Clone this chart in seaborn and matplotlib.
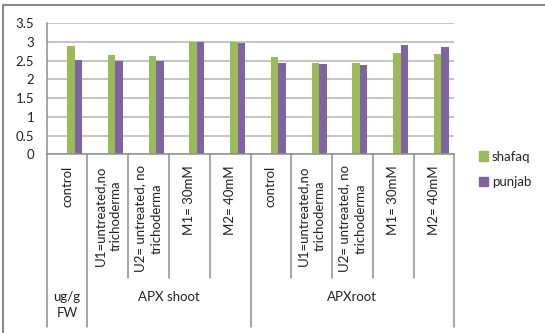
import matplotlib
matplotlib.use("Agg")
import matplotlib.pyplot as plt
import matplotlib.transforms as mtransforms
from matplotlib.lines import Line2D
from matplotlib.patches import Patch
import seaborn as sns
import pandas as pd

# Treatment labels along the axis, grouped under the outer labels
category_labels = [
    "control",
    "U1=untreated,no\ntrichoderma",
    "U2= untreated, no\ntrichoderma",
    "M1= 30mM",
    "M2= 40mM",
    "control",
    "U1=untreated,no\ntrichoderma",
    "U2= untreated, no\ntrichoderma",
    "M1= 30mM",
    "M2= 40mM",
]
group_labels = ["ug/g\nFW", "APX shoot", "APXroot"]
group_sizes = [1, 4, 5]

series_names = ["shafaq", "punjab"]
shafaq = [2.89, 2.65, 2.63, 3.00, 3.00, 2.60, 2.45, 2.43, 2.70, 2.68]
punjab = [2.51, 2.49, 2.49, 3.00, 2.97, 2.45, 2.41, 2.39, 2.91, 2.87]
y_ticks = [0, 0.5, 1, 1.5, 2, 2.5, 3, 3.5]

GREEN = "#9BBB59"
PURPLE = "#8064A2"
GRID = "#C4C4C4"
AXIS = "#8E8E8E"
FRAME = "#8A8A8A"

sns.set_theme(style="white")
plt.rcParams["font.family"] = ["Lato", "DejaVu Sans"]

n = len(category_labels)
df = pd.DataFrame({
    "slot": list(range(n)) * 2,
    "variety": [series_names[0]] * n + [series_names[1]] * n,
    "value": shafaq + punjab,
})

W, H = 545, 333
x0, x1, ytop, ybot = 46.7, 454.3, 23.3, 154.3
fig = plt.figure(figsize=(W / 100, H / 100), dpi=100)
ax = fig.add_axes([x0 / W, 1 - ybot / H, (x1 - x0) / W, (ybot - ytop) / H])

# two empty leading slots push each pair to the right half of its category
hue_order = ["pad_a", "pad_b"] + series_names
palette = {"pad_a": GREEN, "pad_b": GREEN, series_names[0]: GREEN, series_names[1]: PURPLE}
sns.barplot(data=df, x="slot", y="value", hue="variety", hue_order=hue_order,
            palette=palette, width=0.74, dodge=True, legend=False, ax=ax,
            saturation=1, linewidth=0, errorbar=None)

ax.set_ylim(0, 3.5)
ax.set_xlim(-0.5, n - 0.5)
ax.set_yticks(y_ticks)
ax.set_yticklabels([f"{t:g}" for t in y_ticks])
ax.yaxis.grid(True, color=GRID, lw=1.4)
ax.set_axisbelow(True)
ax.set_xlabel("")
ax.set_ylabel("")
for s in ("top", "right"):
    ax.spines[s].set_visible(False)
for s in ("left", "bottom"):
    ax.spines[s].set_color(AXIS)
    ax.spines[s].set_linewidth(1.1)
ax.tick_params(axis="y", direction="out", length=3, width=1.1, color=AXIS,
               labelsize=9.5, pad=6, labelcolor="#222222")
ax.set_xticks(range(n))
ax.set_xticklabels(category_labels, rotation=90, va="top", ha="center",
                   multialignment="center", fontsize=9.5, linespacing=1.45,
                   color="#222222")
ax.tick_params(axis="x", length=0, pad=8)

# category and group divider lines under the axis
def ya(p):
    return (ybot - p) / (ybot - ytop)

trans = mtransforms.blended_transform_factory(ax.transData, ax.transAxes)
bounds = [-0.5]
for g in group_sizes:
    bounds.append(bounds[-1] + g)
for k in range(n + 1):
    b = k - 0.5
    end = 327 if b in bounds else 278
    ax.add_line(Line2D([b, b], [0, ya(end)], transform=trans, clip_on=False,
                       color=AXIS, lw=1.1))

for i, label in enumerate(group_labels):
    cx = (bounds[i] + bounds[i + 1]) / 2
    ax.text(cx, ya(291), label, transform=trans, ha="center", va="top",
            fontsize=9.5, linespacing=1.4, color="#222222")

handles = [Patch(color=GREEN), Patch(color=PURPLE)]
fig.legend(handles, series_names, loc="center left",
           bbox_to_anchor=(472 / W, 1 - 169.5 / H), frameon=False,
           fontsize=9.5, handlelength=0.75, handleheight=0.75,
           handletextpad=0.25, labelspacing=1.0, borderpad=0)

# outer chart frame
fig.add_artist(Line2D([3 / W, 1], [1 - 5 / H, 1 - 5 / H], transform=fig.transFigure,
                      color=FRAME, lw=1.5))
fig.add_artist(Line2D([3 / W, 3 / W], [0, 1 - 5 / H], transform=fig.transFigure,
                      color=FRAME, lw=1.5))

fig.savefig("out.png", dpi=100)
